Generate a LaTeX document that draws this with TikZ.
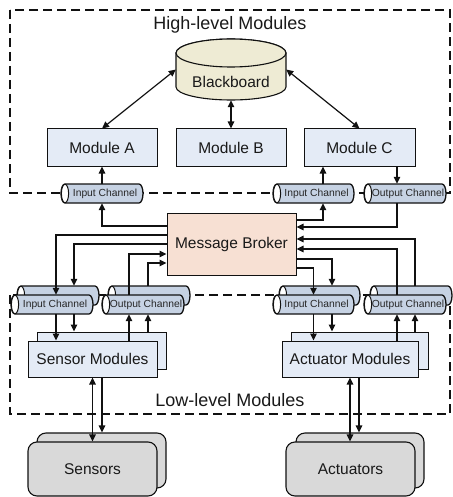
\documentclass[tikz,border=0pt]{standalone}
\usepackage{fontspec}
\setmainfont{Liberation Sans}
\usetikzlibrary{arrows.meta,calc}
\definecolor{modfill}{HTML}{E4EBF6}
\definecolor{bbfill}{HTML}{EEEBD4}
\definecolor{mbfill}{HTML}{F7E0D3}
\definecolor{chfill}{HTML}{C6D2E3}
\definecolor{endfill}{HTML}{FFFFFF}
\definecolor{devfill}{HTML}{D9D9D9}
\definecolor{linec}{HTML}{111111}
\newcommand\fmod{\fontsize{15.5}{18}\selectfont}
\newcommand\fchan{\fontsize{10.3}{12}\selectfont}
\newcommand\flab{\fontsize{18}{21}\selectfont}
\newcommand\mkchan[5]{%
  \path[chanbody] (#2+4,#3) -- (#4-4,#3)
     arc[start angle=-90,end angle=90,x radius=4,y radius=9.5]
     -- (#2+4,#3+19)
     arc[start angle=90,end angle=270,x radius=4,y radius=9.5] -- cycle;
  \draw[chanend] (#2+4,#3+9.5) ellipse[x radius=3.6,y radius=9.3];
  \node[chantext, minimum width={#4-#2}] (#1) at ({(#2+#4)/2},#3+9.5) {\hspace*{6pt}#5};
}
\begin{document}
\begin{tikzpicture}[x=1pt,y=-1pt,
  chanbody/.style={draw=linec, fill=chfill, line width=1.3pt},
  chanend/.style={draw=linec, fill=endfill, line width=1pt},
  chantext/.style={font=\fchan, inner sep=0pt, minimum height=19pt, text=black!85},
  modbox/.style={draw=linec, fill=modfill, line width=1pt, inner sep=0pt, font=\fmod, text=black!90},
  devbox/.style={draw=linec, fill=devfill, line width=1.1pt, rounded corners=9pt, inner sep=0pt, font=\fmod, text=black!90},
  dashbox/.style={draw=linec, line width=1.1pt, dash pattern=on 9pt off 5pt},
  arr/.style={draw=linec, line width=1.2pt, -{Triangle[length=7pt,width=6.5pt]}},
  darr/.style={draw=linec, line width=1.2pt, {Triangle[length=7pt,width=6.5pt]}-{Triangle[length=7pt,width=6.5pt]}},
]
\useasboundingbox (0,0) rectangle (452,497);

% dashed group boxes
\draw[dashbox] (10,10) rectangle (450,193);
\draw[dashbox] (10,295) rectangle (450,414);
\node[font=\flab, inner sep=0pt, text=black!90] (hl) at (230,25) {High-level Modules};
\node[font=\flab, inner sep=0pt, text=black!90] (ll) at (230,400) {Low-level Modules};

% blackboard
\path[draw=linec, fill=bbfill, line width=1.1pt] (176,53) -- (176,87)
  arc[start angle=180,end angle=0,x radius=55,y radius=13] -- (286,53)
  arc[start angle=0,end angle=-180,x radius=55,y radius=14] -- cycle;
\draw[line width=1.1pt, draw=linec, fill=bbfill] (231,53) ellipse[x radius=55,y radius=14];
\node[minimum width=110pt, minimum height=61pt, inner sep=0pt] (bb) at (231,69.5) {};
\node[font=\fmod, inner sep=0pt, text=black!90] (bbt) at (231,82) {Blackboard};

% high level modules
\node[modbox, minimum width=110pt, minimum height=37pt] (ma) at (102,147.5) {Module A};
\node[modbox, minimum width=110pt, minimum height=37pt] (mbb) at (231,147.5) {Module B};
\node[modbox, minimum width=111pt, minimum height=37pt] (mc) at (359.5,147.5) {Module C};

% high-level channels
\mkchan{tiL}{61}{184}{143}{Input Channel}
\mkchan{tiR}{273}{184}{354}{Input Channel}
\mkchan{toR}{364}{184}{446}{Output Channel}

% message broker
\node[modbox, fill=mbfill, minimum width=129pt, minimum height=62pt] (mb) at (231.5,244) {Message Broker};

% low-level channels (back then front)
\mkchan{liB}{17}{286}{99}{}
\mkchan{liF}{11}{295}{93}{Input Channel}
\mkchan{loB}{108}{286}{190}{}
\mkchan{loF}{102}{295}{184}{Output Channel}
\mkchan{riB}{279}{286}{360}{}
\mkchan{riF}{273}{295}{354}{Input Channel}
\mkchan{roB}{370}{286}{452}{}
\mkchan{roF}{364}{295}{446}{Output Channel}

% low-level modules (stacked)
\node[modbox, minimum width=129pt, minimum height=37pt] (smB) at (101.5,350.5) {};
\node[modbox, minimum width=129pt, minimum height=36pt] (smF) at (92.5,359) {Sensor Modules};
\node[modbox, minimum width=137pt, minimum height=37pt] (amB) at (359.5,350.5) {};
\node[modbox, minimum width=136pt, minimum height=36pt] (amF) at (350,359) {Actuator Modules};

% devices
\node[devbox, minimum width=129pt, minimum height=55pt] (sB) at (101.5,460.5) {};
\node[devbox, minimum width=129pt, minimum height=54pt] (sF) at (92.5,469) {Sensors};
\node[devbox, minimum width=128pt, minimum height=55pt] (aB) at (360,460.5) {};
\node[devbox, minimum width=129pt, minimum height=54pt] (aF) at (350.5,469) {Actuators};

% blackboard links
\draw[darr] (bb.west) -- (ma.north);
\draw[darr] (bb.south) -- (mbb.north);
\draw[darr] (bb.east) -- (mc.north);

% high-level channel links
\draw[arr] (tiL.north) -- (ma.south);
\draw[arr] ([xshift=9.5pt]tiR.north) -- ([xshift=9.5pt]tiR.north |- mc.south);
\draw[arr] ([xshift=-8pt]toR.north |- mc.south) -- ([xshift=-8pt]toR.north);

% broker <-> high-level channels
\draw[arr] (mb.west |- 0,226) -| (tiL.south);
\draw[arr] (mb.east |- 0,220) -| ([xshift=9.5pt]tiR.south);
\draw[arr] ([xshift=-8pt]toR.south) |- (mb.east |- 0,227);

% broker <-> low-level channels, left
\draw[arr] (mb.west |- 0,235) -| ([xshift=4pt]liF.north);
\draw[arr] (mb.west) -| ([xshift=16pt]liB.north);
\draw[arr] ([xshift=-14pt]loF.north) |- (mb.west |- 0,254);
\draw[arr] ([xshift=-1pt]loB.north) |- (mb.west |- 0,263);

% broker <-> low-level channels, right
\draw[arr] ([xshift=4pt]roB.north) |- (mb.east |- 0,239);
\draw[arr] ([xshift=-8pt]roF.north) |- (mb.east |- 0,249);
\draw[arr] (mb.east |- 0,259) -| ([xshift=12.5pt]riB.north);
\draw[arr] (mb.east |- 0,268) -| (riF.north);

% channels <-> sensor modules
\draw[arr] ([xshift=4pt]liF.south) -- ([xshift=4pt]liF.south |- smF.north);
\draw[arr] ([xshift=16pt]liB.north |- liF.south) -- ([xshift=16pt]liB.north |- smB.north);
\draw[arr] ([xshift=-14pt]loF.south |- smF.north) -- ([xshift=-14pt]loF.south);
\draw[arr] ([xshift=-1pt]loB.north |- smB.north) -- ([xshift=-1pt]loB.north |- loF.south);

% channels <-> actuator modules
\draw[arr] (riF.south) -- (riF.south |- amF.north);
\draw[arr] ([xshift=12.5pt]riB.north |- riF.south) -- ([xshift=12.5pt]riB.north |- amB.north);
\draw[arr] ([xshift=-8pt]roF.south |- amF.north) -- ([xshift=-8pt]roF.south);
\draw[arr] ([xshift=4pt]roB.north |- amB.north) -- ([xshift=4pt]roB.north |- roF.south);

% modules <-> devices
\draw[darr] (smF.south) -- (smF.south |- sF.north);
\draw[arr] ([xshift=9.5pt]smF.south) -- ([xshift=9.5pt]smF.south |- sB.north);
\draw[darr] (amF.south) -- (amF.south |- aF.north);
\draw[arr] ([xshift=9pt]amF.south) -- ([xshift=9pt]amF.south |- aB.north);
\end{tikzpicture}
\end{document}
